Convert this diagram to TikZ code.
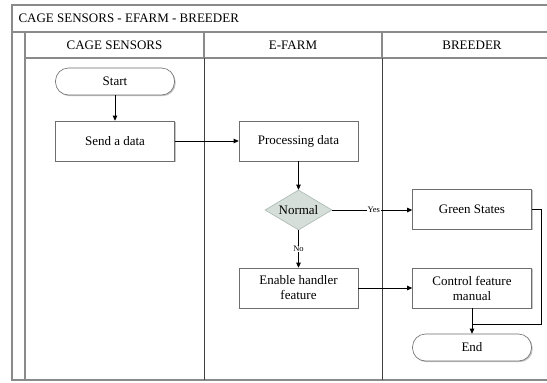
\documentclass[tikz,border=0pt]{standalone}
\usepackage{fontspec}
\setmainfont{Liberation Serif}
\usetikzlibrary{arrows.meta,shapes.geometric,shadows}

\definecolor{framegray}{HTML}{8A8A8A}
\definecolor{boxedge}{HTML}{6E6E6E}
\definecolor{decfill}{HTML}{D6DED9}
\definecolor{decedge}{HTML}{A9B8B0}

\tikzset{
  txt/.style={font=\fontsize{13}{15}\selectfont},
  procbox/.style={txt, draw=boxedge, fill=white, line width=0.6pt,
    minimum width=119pt, minimum height=40pt, inner sep=1pt, align=center,
    drop shadow={shadow xshift=1.2pt, shadow yshift=-1.2pt, fill=black!45, opacity=0.5}},
  termbox/.style={procbox, minimum height=27pt, rounded corners=13pt},
  decbox/.style={txt, diamond, draw=decedge, fill=decfill, line width=0.6pt,
    minimum width=67pt, minimum height=40pt, inner sep=0pt, aspect=1.7},
  flow/.style={line width=0.7pt, -{Triangle[length=5pt,width=4.5pt]}},
  plain/.style={line width=0.7pt},
  small/.style={font=\fontsize{8.5}{10}\selectfont, fill=white, inner sep=0.6pt},
  lanehead/.style={txt},
  frame/.style={draw=framegray, line width=1.3pt},
  divider/.style={draw=black!75, line width=0.8pt}
}

\begin{document}
\begin{tikzpicture}[x=1pt,y=-1pt]
\useasboundingbox (0,0) rectangle (547,383);
\clip (0,0) rectangle (547,383);

% pool frame, title row, lane headers
\fill[white] (12,5) rectangle (562,380);
\draw[frame] (562,5) -- (12,5) -- (12,380) -- (562,380);
\draw[frame] (12,32) -- (562,32);
\draw[frame] (25,32) -- (25,380);
\draw[frame] (25,58) -- (562,58);
\draw[frame] (204,32) -- (204,58);
\draw[frame] (382,32) -- (382,58);
\draw[divider] (204,58) -- (204,380);
\draw[divider] (382,58) -- (382,380);

\node[txt, anchor=west] (title) at (15,18.5) {CAGE SENSORS - EFARM - BREEDER};
\node[lanehead] (h1) at (114.5,45) {CAGE SENSORS};
\node[lanehead] (h2) at (293,45) {E-FARM};
\node[lanehead] (h3) at (472,45) {BREEDER};

% flow nodes
\node[termbox] (start) at (115,81.5) {Start};
\node[procbox] (send) at (115,141) {Send a data};
\node[procbox] (proc) at (298.5,141) {Processing data};
\node[decbox] (normal) at (298.5,210) {Normal};
\node[procbox] (green) at (472,209) {Green States};
\node[procbox] (enable) at (298.5,288) {Enable handler\\feature};
\node[procbox] (control) at (472,288) {Control feature\\manual};
\node[termbox] (end) at (472,347.5) {End};

\coordinate (gturn) at (541,209);
\coordinate (join) at (541,324);
\coordinate (merge) at (472,324);

% connectors
\draw[flow] (start) -- (send);
\draw[flow] (send) -- (proc);
\draw[flow] (proc) -- (normal);
\draw[flow] (normal.east) -- node[small, pos=0.52] {Yes} (green.west |- normal.east);
\draw[flow] (normal.south) -- node[small, pos=0.5] {No} (enable.north);
\draw[flow] (enable) -- (control);
\draw[flow] (control) -- (end);
\draw[plain] (green.east) -- (gturn) -- (join) -- (merge);
\end{tikzpicture}
\end{document}
